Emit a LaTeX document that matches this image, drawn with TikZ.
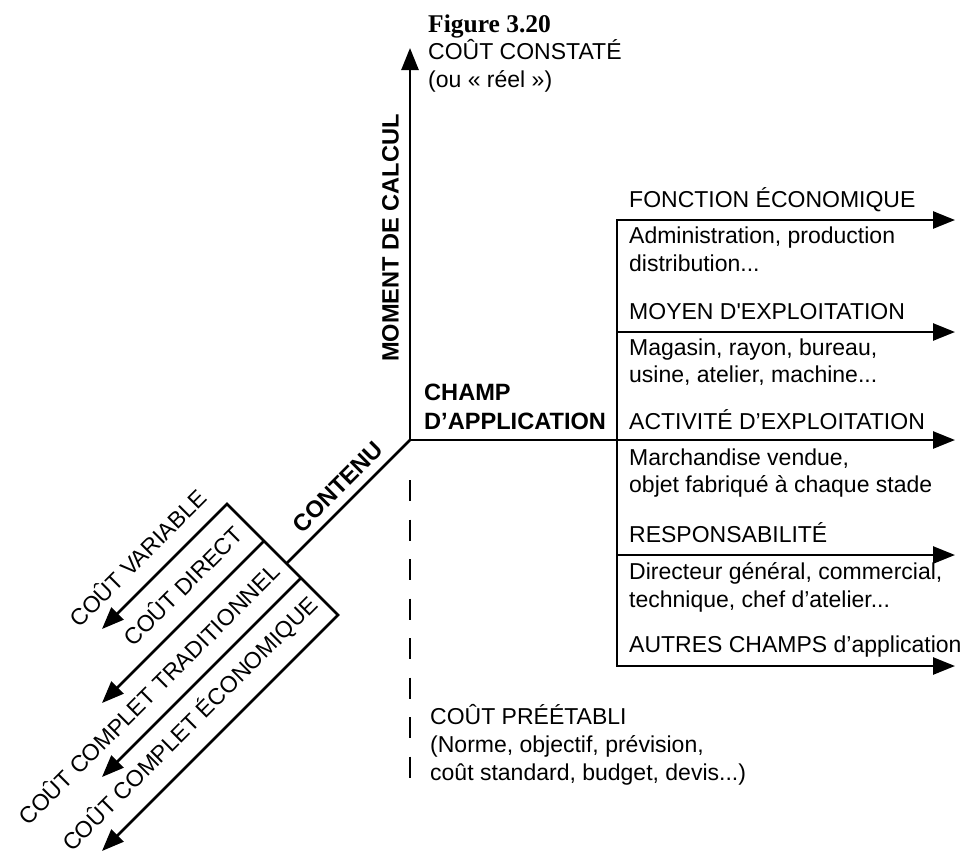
\documentclass[tikz,border=0pt]{standalone}
\usepackage{fontspec}
\setmainfont{Liberation Sans}
\newfontfamily\figfont{Liberation Serif}
\usetikzlibrary{arrows.meta}
\begin{document}
\begin{tikzpicture}[x=1pt,y=-1pt,
  ln/.style={line width=2.6pt},
  tip/.style={-{Triangle[length=22pt,width=17pt]}},
  both/.style={{Triangle[length=22pt,width=17pt]}-{Triangle[length=22pt,width=17pt]}},
  lbl/.style={font=\fontsize{23}{27}\selectfont, inner sep=0pt, anchor=base west},
  blbl/.style={font=\bfseries\fontsize{23.6}{27}\selectfont, inner sep=0pt},
  dlbl/.style={font=\fontsize{23}{27}\selectfont, inner sep=0pt, rotate=45},
]
\useasboundingbox (0,0) rectangle (971,857);

% axes
\coordinate (O) at (410,440);
\coordinate (Top) at (410,48);
\coordinate (Ht) at (955,440);
\coordinate (D0) at (410,480);
\coordinate (D1) at (410,778);
% right bar
\coordinate (Bt) at (617,220);
\coordinate (Bb) at (617,666);
\coordinate (Ft) at (955,220);
\coordinate (Mb) at (617,332);
\coordinate (Mt) at (955,332);
\coordinate (Rb) at (617,555);
\coordinate (Rt) at (955,555);
\coordinate (At) at (955,666);
% diagonal
\coordinate (C) at (286.5,563.5);
\coordinate (A0) at (227,504);
\coordinate (A1) at (264,541);
\coordinate (A2) at (301,578);
\coordinate (A3) at (338,615);
\coordinate (T0) at (102,629);
\coordinate (T1) at (102,703);
\coordinate (T2) at (102,777);
\coordinate (T3) at (102,851);

\draw[ln, both] (Top) -- (O) -- (Ht);
\draw[ln, dash pattern=on 21pt off 18.5pt] (D0) -- (D1);
\draw[ln, both] (Ft) -- (Bt) -- (Bb) -- (At);
\draw[ln, tip] (Mb) -- (Mt);
\draw[ln, tip] (Rb) -- (Rt);
\draw[ln] (O) -- (C);
\draw[ln, both] (T0) -- (A0) -- (A3) -- (T3);
\draw[ln, tip] (A1) -- (T1);
\draw[ln, tip] (A2) -- (T2);

% title
\node[inner sep=0pt, anchor=base west, font=\figfont\bfseries\fontsize{25.5}{28}\selectfont] (fig) at (428,32) {Figure 3.20};

% top
\node[lbl] (cc1) at (428,59) {COÛT CONSTATÉ};
\node[lbl] (cc2) at (428,87) {(ou « réel »)};

% bottom
\node[lbl] (cp1) at (430,724) {COÛT PRÉÉTABLI};
\node[lbl] (cp2) at (430,752) {(Norme, objectif, prévision,};
\node[lbl] (cp3) at (430,780) {coût standard, budget, devis...)};

% axis labels
\node[blbl, rotate=90] (mc) at (390.5,238) {MOMENT DE CALCUL};
\node[blbl, anchor=base west] (ch1) at (424,400) {CHAMP};
\node[blbl, anchor=base west] (ch2) at (424,429) {D’APPLICATION};
\node[blbl, rotate=45] (ct) at (338,487) {CONTENU};

% right side
\node[lbl] (f1) at (629,207) {FONCTION ÉCONOMIQUE};
\node[lbl] (f2) at (629,243) {Administration, production};
\node[lbl] (f3) at (629,271) {distribution...};
\node[lbl] (m1) at (629,319) {MOYEN D\textquotesingle EXPLOITATION};
\node[lbl] (m2) at (629,355) {Magasin, rayon, bureau,};
\node[lbl] (m3) at (629,382) {usine, atelier, machine...};
\node[lbl] (a1) at (629,429) {ACTIVITÉ D’EXPLOITATION};
\node[lbl] (a2) at (629,465) {Marchandise vendue,};
\node[lbl] (a3) at (629,492) {objet fabriqué à chaque stade};
\node[lbl] (r1) at (629,542) {RESPONSABILITÉ};
\node[lbl] (r2) at (629,579) {Directeur général, commercial,};
\node[lbl] (r3) at (629,607) {technique, chef d’atelier...};
\node[lbl] (o1) at (629,652) {AUTRES CHAMPS d’application};

% diagonal labels
\node[dlbl] (v) at (137,557) {COÛT VARIABLE};
\node[dlbl] (d) at (182,585) {COÛT DIRECT};
\node[dlbl] (t) at (148,693) {COÛT COMPLET TRADITIONNEL};
\node[dlbl] (e) at (190,724) {COÛT COMPLET ÉCONOMIQUE};
\end{tikzpicture}
\end{document}
